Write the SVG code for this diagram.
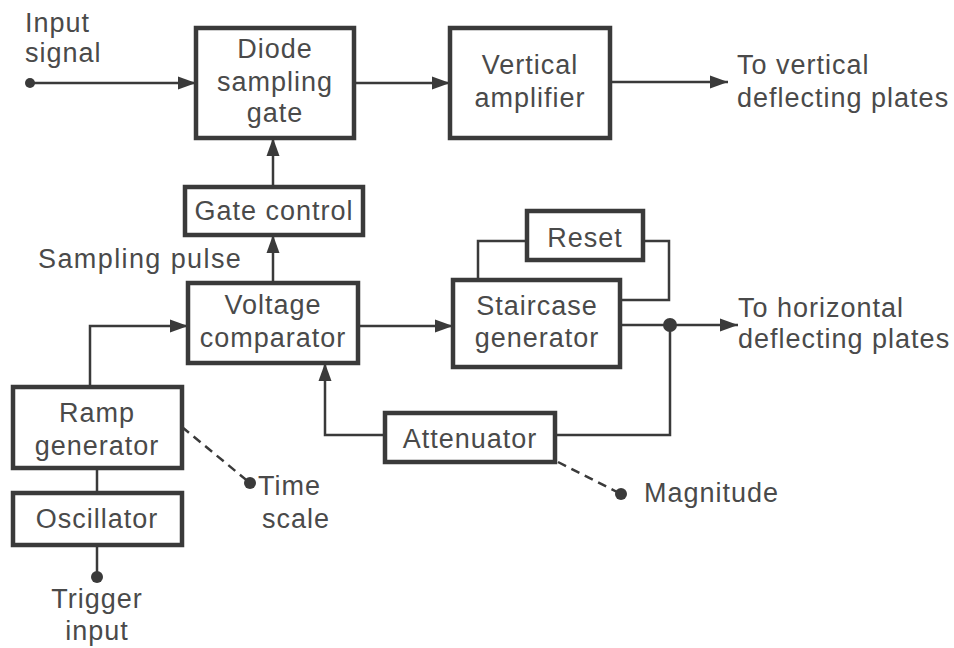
<svg xmlns="http://www.w3.org/2000/svg" width="954" height="648" viewBox="0 0 954 648">
<style>
.box{fill:#fff;stroke:#3a3a3a;stroke-width:4.5}
.ln{fill:none;stroke:#3a3a3a;stroke-width:2.5}
.dash{fill:none;stroke:#3a3a3a;stroke-width:2.5;stroke-dasharray:9 6}
.dot{fill:#3a3a3a}
text{font-family:"Liberation Sans",Arial,sans-serif;font-size:27px;fill:#4a4a4a;letter-spacing:1px}
.c{text-anchor:middle}
</style>
<defs>
<marker id="ah" markerUnits="userSpaceOnUse" markerWidth="19" markerHeight="16" refX="18" refY="8" orient="auto">
<path d="M0,1.5 L18,8 L0,14.5 z" fill="#3a3a3a"/>
</marker>
</defs>
<rect width="954" height="648" fill="#fff"/>
<g id="connectors">
<line class="ln" x1="30" y1="83" x2="196" y2="83" marker-end="url(#ah)"/>
<line class="ln" x1="354" y1="83" x2="450" y2="83" marker-end="url(#ah)"/>
<line class="ln" x1="610" y1="82" x2="728" y2="82" marker-end="url(#ah)"/>
<line class="ln" x1="273" y1="185" x2="273" y2="138" marker-end="url(#ah)"/>
<line class="ln" x1="273" y1="283" x2="273" y2="235" marker-end="url(#ah)"/>
<line class="ln" x1="358" y1="326" x2="453" y2="326" marker-end="url(#ah)"/>
<polyline class="ln" points="90,387 90,326 188,326" marker-end="url(#ah)"/>
<polyline class="ln" points="385,435 325,435 325,363" marker-end="url(#ah)"/>
<polyline class="ln" points="478,280 478,241 527,241"/>
<polyline class="ln" points="643,241 669,241 669,300 620,300"/>
<line class="ln" x1="620" y1="325" x2="738" y2="325" marker-end="url(#ah)"/>
<polyline class="ln" points="670,325 670,435 555,435"/>
<line class="ln" x1="97" y1="468" x2="97" y2="493"/>
<line class="ln" x1="97" y1="545" x2="97" y2="577"/>
<line class="dash" x1="182" y1="427" x2="250" y2="483"/>
<line class="dash" x1="558" y1="462" x2="621" y2="494"/>
<circle class="dot" cx="30" cy="83" r="5"/>
<circle class="dot" cx="670" cy="325" r="7"/>
<circle class="dot" cx="250" cy="483" r="6"/>
<circle class="dot" cx="97" cy="577" r="6"/>
<circle class="dot" cx="621" cy="494" r="6"/>
</g>
<g id="diode-sampling-gate">
<rect class="box" x="196" y="28" width="158" height="110"/>
<text class="c" x="275" y="58">Diode</text>
<text class="c" x="275" y="91">sampling</text>
<text class="c" x="275" y="122">gate</text>
</g>
<g id="vertical-amplifier">
<rect class="box" x="450" y="28" width="160" height="110"/>
<text class="c" x="530" y="74">Vertical</text>
<text class="c" x="530" y="107">amplifier</text>
</g>
<g id="gate-control">
<rect class="box" x="185" y="187" width="178" height="48"/>
<text class="c" x="274" y="220">Gate control</text>
</g>
<g id="voltage-comparator">
<rect class="box" x="188" y="283" width="170" height="80"/>
<text class="c" x="273" y="314">Voltage</text>
<text class="c" x="273" y="347">comparator</text>
</g>
<g id="staircase-generator">
<rect class="box" x="453" y="280" width="167" height="87"/>
<text class="c" x="537" y="315">Staircase</text>
<text class="c" x="537" y="347">generator</text>
</g>
<g id="reset">
<rect class="box" x="527" y="211" width="116" height="49"/>
<text class="c" x="585" y="247">Reset</text>
</g>
<g id="ramp-generator">
<rect class="box" x="13" y="387" width="169" height="81"/>
<text class="c" x="97" y="422">Ramp</text>
<text class="c" x="97" y="455">generator</text>
</g>
<g id="oscillator">
<rect class="box" x="13" y="493" width="169" height="52"/>
<text class="c" x="97" y="528">Oscillator</text>
</g>
<g id="attenuator">
<rect class="box" x="385" y="413" width="170" height="49"/>
<text class="c" x="470" y="448">Attenuator</text>
</g>
<g id="labels">
<text x="25" y="32">Input</text>
<text x="25" y="62">signal</text>
<text x="737" y="74">To vertical</text>
<text x="737" y="107">deflecting plates</text>
<text x="38" y="268" style="letter-spacing:1.4px">Sampling pulse</text>
<text x="738" y="317">To horizontal</text>
<text x="738" y="348">deflecting plates</text>
<text x="258" y="495">Time</text>
<text x="262" y="528">scale</text>
<text x="644" y="502">Magnitude</text>
<text class="c" x="97" y="608">Trigger</text>
<text class="c" x="97" y="640">input</text>
</g>
</svg>
